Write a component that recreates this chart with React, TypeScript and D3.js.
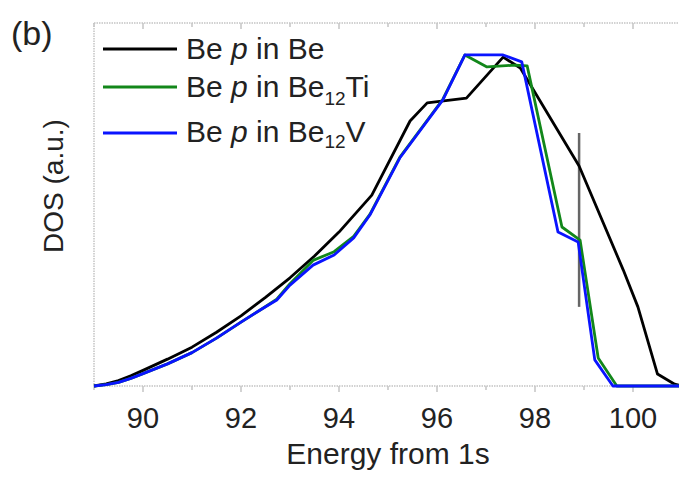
import React from "react";
import * as d3 from "d3";

// Energy (eV from 1s) and DOS (a.u.) values
const energyBe = [89, 89.25, 89.5, 89.75, 90, 90.5, 91, 91.5, 92, 92.5, 93, 93.5, 94, 94.67, 95.45, 95.8, 96.6, 97.35, 97.7, 98.9, 99.8, 100.1, 100.5, 100.85, 101];
const dosBe = [0, 0.6, 1.5, 2.8, 4.3, 7.4, 10.7, 14.8, 19.3, 24.4, 29.8, 35.8, 42.4, 52.6, 73.0, 78.0, 79.3, 90.6, 87.6, 60.6, 32.0, 21.8, 3.3, 0.5, 0];

const energyTi = [89, 89.25, 89.5, 89.75, 90, 90.5, 91, 91.5, 92, 92.4, 92.73, 93, 93.47, 93.9, 94.3, 94.63, 95.24, 96.12, 96.57, 97.02, 97.59, 97.84, 98.55, 98.92, 99.29, 99.67, 101];
const dosTi = [0, 0.4, 1.0, 2.1, 3.4, 6.1, 9.2, 13.2, 17.6, 21.0, 23.9, 28.2, 34.6, 37.0, 41.2, 47.3, 63.0, 79.0, 91.2, 87.9, 88.4, 88.2, 43.8, 40.2, 7.7, 0, 0];

const energyV = [89, 89.25, 89.5, 89.75, 90, 90.5, 91, 91.5, 92, 92.4, 92.73, 93, 93.47, 93.9, 94.3, 94.63, 95.24, 96.12, 96.57, 97.35, 97.73, 98.47, 98.88, 99.22, 99.59, 101];
const dosV = [0, 0.4, 1.0, 2.1, 3.4, 6.1, 9.2, 13.2, 17.6, 21.0, 23.7, 27.8, 33.3, 36.1, 40.8, 47.1, 62.8, 78.8, 91.2, 91.2, 89.3, 42.4, 39.7, 7.2, 0, 0];

const xTicks = [90, 92, 94, 96, 98, 100];
const xMinorTicks = [89, 91, 93, 95, 97, 99, 101];
const markerEnergy = 98.9;
const markerRange = [21.8, 69.7];

const seriesColors = ["#000000", "#12871a", "#0a14ff"];
const subscripts = ["", "12", "12"];
const suffixes = ["", "Ti", "V"];

const W = 679;
const H = 478;
const left = 94;
const right = 682;
const top = 23;
const bottom = 386;
const font = "'Liberation Sans', Arial, sans-serif";

export default function App() {
  const x = d3.scaleLinear().domain([89, 101]).range([left, right]);
  const y = d3.scaleLinear().domain([0, 100]).range([bottom, top]);
  const line = d3
    .line<[number, number]>()
    .x((d) => x(d[0]))
    .y((d) => y(d[1]));

  const series = [
    energyBe.map((e, i) => [e, dosBe[i]] as [number, number]),
    energyTi.map((e, i) => [e, dosTi[i]] as [number, number]),
    energyV.map((e, i) => [e, dosV[i]] as [number, number]),
  ];

  const axisColor = "#c4c4c4";
  const legendY = [49, 87, 133];
  const legendBase = [59, 97, 142];

  return (
    <svg
      width={W}
      height={H}
      style={{ position: "absolute", left: 0, top: 0, background: "#fff" }}
      fontFamily={font}
    >
      <rect x={0} y={0} width={W} height={H} fill="#fff" />
      {/* frame */}
      <line x1={left} x2={left} y1={top} y2={bottom} stroke={axisColor} strokeWidth={1.5} strokeDasharray="1.5,1" />
      <line x1={left} x2={right} y1={top} y2={top} stroke={axisColor} strokeWidth={1.5} strokeDasharray="1.5,1" />
      <line x1={left} x2={right} y1={bottom} y2={bottom} stroke={axisColor} strokeWidth={1.5} strokeDasharray="1.5,1" />
      {/* ticks */}
      {xTicks.map((t) => (
        <g key={"t" + t}>
          <line x1={x(t)} x2={x(t)} y1={bottom} y2={bottom + 6} stroke={axisColor} strokeWidth={1.5} />
          <line x1={x(t)} x2={x(t)} y1={top} y2={top + 6} stroke={axisColor} strokeWidth={1.5} />
          <text x={x(t)} y={428} textAnchor="middle" fontSize={29} fill="#222">
            {t}
          </text>
        </g>
      ))}
      {xMinorTicks.map((t) => (
        <g key={"m" + t}>
          <line x1={x(t)} x2={x(t)} y1={bottom} y2={bottom + 4} stroke={axisColor} strokeWidth={1.5} />
          <line x1={x(t)} x2={x(t)} y1={top} y2={top + 4} stroke={axisColor} strokeWidth={1.5} />
        </g>
      ))}
      {/* marker line */}
      <line
        x1={x(markerEnergy)}
        x2={x(markerEnergy)}
        y1={y(markerRange[0])}
        y2={y(markerRange[1])}
        stroke="#666"
        strokeWidth={2.5}
      />
      {/* series: black, green, blue (blue on top) */}
      {series.map((s, i) => (
        <path key={i} d={line(s) || ""} fill="none" stroke={seriesColors[i]} strokeWidth={2.8} strokeLinejoin="round" />
      ))}
      {/* legend */}
      {seriesColors.map((c, i) => (
        <g key={"l" + i}>
          <line x1={103} x2={177} y1={legendY[i]} y2={legendY[i]} stroke={c} strokeWidth={2.8} />
          <text x={186} y={legendBase[i]} fontSize={30} fill="#222">
            <tspan>Be </tspan>
            <tspan fontStyle="italic">p</tspan>
            <tspan> in Be</tspan>
            {subscripts[i] && (
              <>
                <tspan fontSize={19} dy={i === 1 ? 8 : 6}>{subscripts[i]}</tspan>
                <tspan dy={i === 1 ? -8 : -6}>{suffixes[i]}</tspan>
              </>
            )}
          </text>
        </g>
      ))}
      {/* labels */}
      <text x={388} y={464} textAnchor="middle" fontSize={30} fill="#222">
        Energy from 1s
      </text>
      <text transform={`translate(63,186) rotate(-90)`} textAnchor="middle" fontSize={28} fill="#222">
        DOS (a.u.)
      </text>
      <text x={11} y={45} fontSize={34} fill="#222">
        (b)
      </text>
    </svg>
  );
}
